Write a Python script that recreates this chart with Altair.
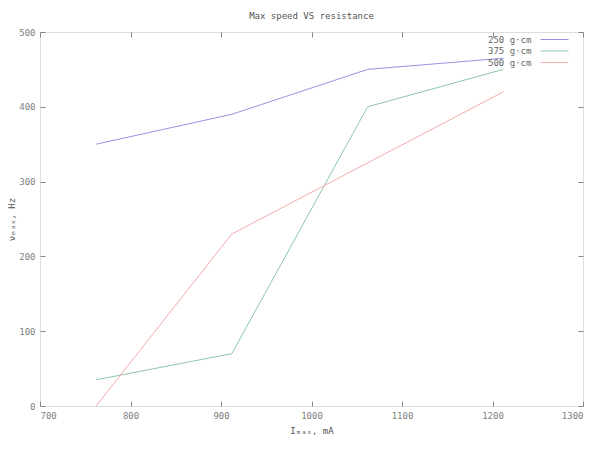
import altair as alt
import pandas as pd

series_names = ["250 g·cm", "375 g·cm", "500 g·cm"]
colors = ["#9494e6", "#8cc8a4", "#f4acac"]

i_250 = [762, 912, 1062, 1212]
v_250 = [350, 390, 450, 465]
i_375 = [762, 912, 1062, 1212]
v_375 = [35, 70, 400, 450]
i_500 = [762, 912, 1212]
v_500 = [0, 230, 420]

x_ticks = [700, 800, 900, 1000, 1100, 1200, 1300]
y_ticks = [0, 100, 200, 300, 400, 500]

rows = []
for name, xs, ys in zip(series_names, [i_250, i_375, i_500], [v_250, v_375, v_500]):
    for k, (a, b) in enumerate(zip(xs, ys)):
        rows.append({"series": name, "I": a, "v": b, "k": k})
df = pd.DataFrame(rows)

FONT = "DejaVu Sans Mono"
xscale = alt.Scale(domain=[700, 1300], nice=False, zero=False)
yscale = alt.Scale(domain=[0, 500], nice=False)

common_axis = dict(domain=False, grid=False, tickSize=5, offset=-5,
                   tickColor="#888", labelFont=FONT, labelFontSize=9,
                   labelColor="#808080", titleFont=FONT, titleFontSize=9,
                   titleColor="#555", titleFontWeight="normal", format="d")

base = alt.Chart(df)

lines = base.mark_line(strokeWidth=1).encode(
    x=alt.X("I:Q", scale=xscale,
            axis=alt.Axis(orient="bottom", values=x_ticks, labelPadding=5,
                          titlePadding=6, title="Iₘₐₓ, mA", **common_axis)),
    y=alt.Y("v:Q", scale=yscale,
            axis=alt.Axis(orient="left", values=y_ticks, labelPadding=5,
                          titlePadding=2, title="νₘₐₓ, Hz", **common_axis)),
    color=alt.Color("series:N",
                    scale=alt.Scale(domain=series_names, range=colors),
                    legend=alt.Legend(title=None, orient="none", legendX=434,
                                      legendY=2.5,
                                      symbolType="M13.7,0H19.9",
                                      symbolSize=81, symbolStrokeWidth=1,
                                      labelFont=FONT, labelFontSize=9,
                                      labelColor="#666", rowPadding=1.5,
                                      labelOffset=4, padding=0)),
    order="k:Q",
)

mirror = base.mark_line(opacity=0).encode(
    x=alt.X("I:Q", scale=xscale,
            axis=alt.Axis(orient="top", values=x_ticks, labels=False,
                          title="", **common_axis)),
    y=alt.Y("v:Q", scale=yscale,
            axis=alt.Axis(orient="right", values=y_ticks, labels=False,
                          title="", **common_axis)),
    detail="series:N",
)

chart = alt.layer(lines, mirror).resolve_axis(
    x="independent", y="independent"
).properties(
    width=543, height=374,
    autosize=alt.AutoSizeParams(type="none"),
    padding={"left": 32, "top": 24, "right": 9, "bottom": 36},
    title=alt.TitleParams("Max speed VS resistance", font=FONT, fontSize=9,
                          fontWeight="normal", color="#555", offset=7,
                          anchor="middle"),
).configure_view(stroke="#888", strokeWidth=1).configure(background="white")

chart.save("out.html", embed_options={"renderer": "svg", "actions": False})
